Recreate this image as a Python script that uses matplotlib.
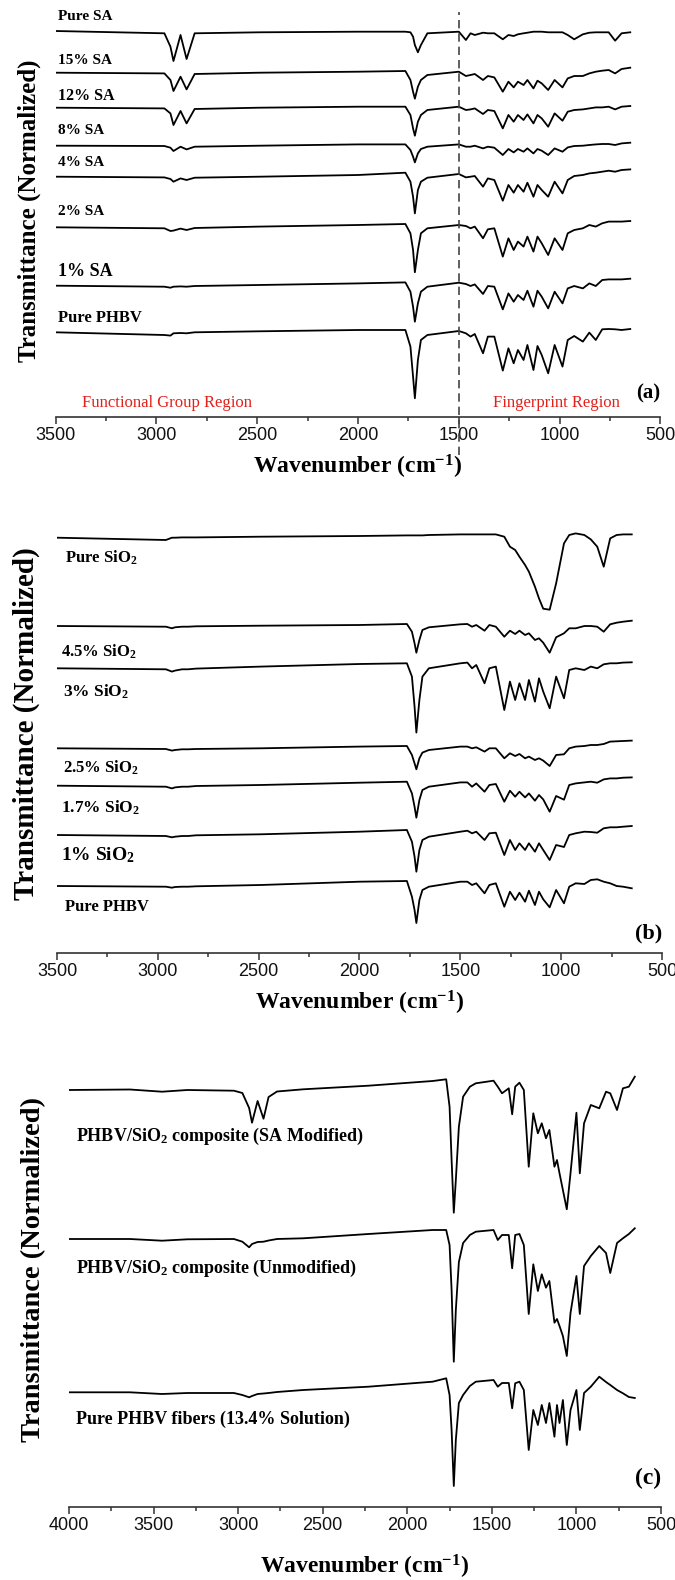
import numpy as np
import matplotlib
matplotlib.use("Agg")
import matplotlib.pyplot as plt
from matplotlib.ticker import MultipleLocator

plt.rcParams["mathtext.fontset"] = "custom"
plt.rcParams["mathtext.rm"] = "Liberation Serif:bold"
plt.rcParams["mathtext.it"] = "Liberation Serif:bold"
plt.rcParams["mathtext.bf"] = "Liberation Serif:bold"

# ---------------- data (transmittance, arbitrary units, relative to each trace start) -------------
# wavenumber points shared by the spectra of panels (a) and (b)
wn_ab = [3500, 2960, 2930, 2915, 2880, 2850, 2810, 2490, 2000, 1765, 1740, 1727, 1718, 1703, 1688,
         1656, 1500, 1465, 1442, 1421, 1380, 1356, 1324, 1282, 1254, 1228, 1207, 1179, 1160, 1130,
         1110, 1089, 1057, 1025, 986, 960, 928, 885, 853, 821, 789, 757, 725, 693, 650]

pure_sa = [0, -2.3, -15.7, -30, -4, -28, -2.3, -1.3, -0.7, -0.7, -1.3, -5.7, -14, -21.3, -14,
           -2.3, -0.7, -9, -2.3, -4, -1.7, -2.3, -2.3, -8.3, -4, -5, -3.3, -2.3, -1.7, -0.7,
           -0.7, -0.7, -1.3, -1.3, -1.3, -4, -8.3, -3.3, -1.7, -1.3, -1.3, -1.3, -9.7, -2.3, -1.3]
sa_15 = [0, -0.7, -7.3, -18.3, -4, -16.7, -1.3, 0, 1, 1.7, -7.3, -19, -26, -14, -7.3,
         -2.3, 1, -3.3, -2.3, -1.3, -7.3, -3.3, -4.7, -19, -9, -14.7, -9, -12.3, -7.3, -15.7,
         -8, -10.7, -17.3, -7.3, -14.7, -5.7, -3.3, -3.3, -0.7, 1, 2, 2.7, -0.7, 3.7, 5]
sa_12 = [0, -0.7, -5.7, -17.3, -3.3, -15.7, -1.3, 0, 1, 1, -7.3, -20.7, -28, -14, -7.3,
         -2.3, 1, -2.3, -1.7, -0.7, -6.3, -2.3, -3.3, -20.7, -7.3, -14, -7.3, -12.3, -6.7, -15.7,
         -7.3, -10.7, -19, -5.7, -13, -4, -2.3, -1.7, -0.7, 0.3, 0.3, 1, -1.7, 1, 1.7]
sa_8 = [0, -0.3, -2, -5.3, -1, -3.7, -1, 0, 1.3, 1.3, -4.3, -11, -16.7, -7.7, -3.3,
        -1, 1.3, -1, -1, 0, -2.7, -1, -2, -9.3, -3.3, -6.7, -3.3, -6, -2.7, -7.7,
        -3.3, -5, -9.3, -2.7, -6, -1.7, -0.3, 0, 0.7, 1.3, 1.7, 1.7, 0.7, 2.3, 3]
sa_4 = [0, -0.7, -2.3, -5, -1.7, -3.3, -1, 0, 1.7, 4, -5, -20, -36.7, -13.3, -5,
        -1, 2.7, -0.7, 0, 0.7, -10, -1.7, -3.3, -24, -8.3, -16, -8.3, -15, -6, -20,
        -8.3, -13.3, -20, -5, -16.7, -3.3, 0.7, 1.7, 3.3, 4, 5, 6, 5, 6.7, 7.3]
sa_2 = [0, -1, -3.7, -3.3, -1.3, -2.7, -0.7, 0.7, 2.3, 3.3, -6, -22.7, -45, -22.7, -6,
        -1, 2.3, 1.3, -1, 0.7, -11, -2, -1, -29.3, -11, -22.7, -14.3, -19.3, -9.3, -24.3,
        -9.3, -16, -27.7, -11, -22.7, -6, -2.7, -1, 2.3, 0.7, 4, 5.7, 5.7, 5.7, 6.3]
sa_1 = [0, -1, -2, -1, -0.7, -1, -0.3, 0.7, 2.3, 3.3, -6, -21, -36, -17.7, -6,
        -1, 3, 1.7, -0.3, 1.3, -8.3, -0.3, -1, -23.7, -7.7, -16, -9.3, -14.3, -5, -21,
        -5, -11, -22.7, -6, -17.7, -2.7, -0.3, -2.7, 2.3, -0.3, 5.7, 6.3, 6.3, 6.3, 7]
phbv_a = [0, -2.7, -3.3, -1, -0.7, -1, 0, 1, 2.3, 2.3, -14.3, -44.3, -66, -27.7, -7.7,
          -2.7, 1.3, -1, -4.3, -1.7, -21, -4.3, -4.3, -38.3, -16, -31, -17.7, -27.7, -12.7, -37.7,
          -13.7, -22.7, -41, -12.7, -34.3, -7.7, -3.7, -9.3, -0.3, -7.7, 3, 3.3, 3, 2.3, 3.3]

pure_sio2 = [0, -2.3, 0, 0, 0.3, 0.3, 0.3, 1, 1.7, 2.3, 2.3, 2.3, 2.3, 2.3, 2.3,
             2.7, 3.3, 3.3, 3.3, 3.3, 3.3, 3.3, 3.3, 1, -9, -12.3, -19, -27.3, -34, -49,
             -60.7, -71, -72, -45.7, -5.7, 2.7, 4.3, 2.7, -1.7, -9, -29, -0.7, 2.7, 3.3, 3.3]
sio2_45 = [0, -0.7, -2.3, -1.3, -0.7, -0.7, -0.3, 0.3, 1, 2, -5.7, -17.3, -26.7, -14, -4,
           -1.3, 1.7, 2, -0.7, 1, -4.7, 1, -0.7, -10.7, -4.7, -8, -4.7, -9, -7.3, -14,
           -12.3, -16.7, -26.7, -11.3, -7.3, -2.3, -2.3, 0, 0, -0.7, -5.7, 1.7, 3.3, 4.3, 5.3]
sio2_3 = [0, -1, -3.3, -2.3, -1, -1, -0.3, 1.7, 4.3, 5, -8.3, -38.3, -64.3, -31.7, -8.3,
          0, 5, 5.7, 0, 3.3, -15, 0, 1.7, -41.7, -13.3, -31.7, -15, -31.7, -11.7, -33.3,
          -10, -23.3, -40, -8.3, -30, -1.7, 0, -1.7, 1.7, 0, 4, 5, 5, 5.7, 6]
sio2_25 = [0, -0.7, -2.3, -1.7, -1, -1, -0.7, 0, 1.7, 2.3, -6.7, -15, -21, -10, -4.3,
           -1.7, 1.7, 1.7, 0, 1, -3.3, 0, 0, -10, -5, -7.7, -5.7, -10, -8.3, -11.7,
           -10, -12.3, -17.7, -6.7, -6, 0, 1.7, 2.3, 3.3, 3.3, 4.3, 6.7, 7, 7.3, 7.7]
sio2_17 = [0, -1, -2.7, -1.7, -1, -1, -0.3, 0.7, 3, 4, -7.7, -21, -32, -14.3, -4.3,
           -1, 3.3, 3.3, -1, 2.3, -6, 0.7, 1.7, -16, -5, -11, -6, -11.7, -7.7, -15,
           -9.3, -13.7, -26, -10.3, -14, 0.7, 2.3, 3.3, 4, 3, 6.3, 7.3, 7.3, 8, 8.3]
sio2_1 = [0, -1, -2.3, -1.7, -1, -1, -0.3, 0.7, 3.3, 5, -6.7, -21.7, -36.7, -15, -5,
          -1.7, 3.3, 4.3, 1.7, 3.3, -5, 1.7, 2.3, -20, -5, -15, -8.3, -15, -8.3, -16.7,
          -8.3, -15, -25, -10, -12, 0, 1.7, 3.3, 3, 2.3, 6.7, 7.7, 7.7, 8.3, 9]
phbv_b = [0, -0.7, -1.7, -1, -0.7, -0.7, -0.3, 1, 4.3, 5, -10.7, -24, -37, -14, -4,
          -0.7, 4.3, 4.3, 1, 2.7, -7.3, 1, 2.7, -20.7, -5.7, -14, -6.7, -15.7, -4.7, -19,
          -5.7, -13.3, -21.3, -4, -17.3, -0.7, 2.7, 2, 6, 6.7, 4.3, 2.7, 0, -0.7, -2.3]

# wavenumber points of panel (c)
wn_c = [4000, 3640, 3450, 3300, 3025, 2975, 2935, 2918, 2885, 2850, 2820, 2770, 2615, 2230, 1850,
        1770, 1750, 1738, 1725, 1713, 1695, 1670, 1630, 1595, 1490, 1465, 1440, 1400, 1380, 1362,
        1337, 1311, 1282, 1255, 1228, 1205, 1180, 1160, 1130, 1115, 1100, 1080, 1057, 1035, 1000,
        980, 955, 915, 865, 825, 800, 760, 725, 690, 655]

sa_modified = [0, 0.5, -1.7, 0, -0.7, -3, -18, -32.7, -11, -28.7, -7, -1.5, 0.7, 4.3, 9,
               10.7, -16.7, -70, -122.7, -90, -36.7, -6.7, 3.3, 6.7, 9.3, 3.3, -3.3, 1.7, -24.3, 3.3,
               7.3, 0, -76.7, -23.3, -43.3, -33.3, -48.3, -40, -76.7, -70, -83.3, -100, -119.3, -83.3, -22.7,
               -83.3, -33.3, -15, -18.3, -1.7, -3.3, -20, 1.7, 3.3, 13.3]
unmodified = [0, 0, -1.7, -0.3, 0, -2.7, -8.3, -5, -3, -2.7, -1.5, 0, 0.7, 5, 9,
              9, -6, -51, -122.7, -71, -23, -4, 4, 7.3, 9, -1, 4, 4, -29.3, 4,
              5, -6, -75, -25.3, -52, -35.3, -48.7, -42, -83.7, -80, -87, -97, -117, -74, -37,
              -75, -27, -17, -7, -14, -34, -4, 0.7, 5, 10.7]
phbv_fibers = [0, 0, -1.7, -0.7, -0.7, -2.7, -5, -3.7, -1.7, -1.2, -0.7, 0.3, 2.3, 5.6, 10.6,
               14, -2.7, -37.7, -93.7, -47.7, -10.7, -2.7, 6.3, 10.6, 12.3, 5.6, 9.3, 9.3, -16, 9,
               10.6, 2.3, -57.7, -17.7, -32.7, -12.7, -30.7, -10.7, -44.4, -12.7, -30.7, -7.7, -52.7, -17.7, 2.3,
               -37.7, -0.7, 5.6, 15.6, 10.3, 7.3, 2.3, -1, -4.7, -5.7]

labels_a = ["Pure SA", "15% SA", "12% SA", "8% SA", "4% SA", "2% SA", "1% SA", "Pure PHBV"]
spectra_a = [pure_sa, sa_15, sa_12, sa_8, sa_4, sa_2, sa_1, phbv_a]
offsets_a = [386, 344.3, 309.3, 271.3, 240.3, 189.7, 131.3, 84.7]
label_y_a = [400, 357, 321.3, 287, 254, 206, 145.3, 98.7]
label_size_a = [11, 11, 11.5, 11, 11, 11, 13, 12]

labels_b = ["Pure SiO$_2$", "4.5% SiO$_2$", "3% SiO$_2$", "2.5% SiO$_2$", "1.7% SiO$_2$",
            "1% SiO$_2$", "Pure PHBV"]
spectra_b = [pure_sio2, sio2_45, sio2_3, sio2_25, sio2_17, sio2_1, phbv_b]
offsets_b = [415.3, 327, 284.7, 204.7, 167.3, 118, 67]
label_x_b = [3461, 3482, 3472, 3472, 3482, 3482, 3461]
label_y_b = [395, 301.3, 261.3, 185, 145, 98, 46.3]
label_size_b = [12, 12, 12.5, 12, 12.5, 14, 12]

labels_c = ["PHBV/SiO$_2$ composite (SA Modified)", "PHBV/SiO$_2$ composite (Unmodified)",
            "Pure PHBV fibers (13.4% Solution)"]
spectra_c = [sa_modified, unmodified, phbv_fibers]
offsets_c = [417, 268, 114.7]
label_y_c = [371, 239, 88]

# ---------------- figure ----------------
W, H = 675.0, 1580.0
fig = plt.figure(figsize=(6.75, 15.8), dpi=100)
serif = "Liberation Serif"


def make_panel(left, right, top, bottom, x_start, ylabel_size):
    ax = fig.add_axes([left / W, 1 - bottom / H, (right - left) / W, (bottom - top) / H])
    ax.set_ylim(0, bottom - top)
    ax.set_xlim(x_start, 500)
    for side in ("left", "right", "top"):
        ax.spines[side].set_visible(False)
    ax.spines["bottom"].set_color("#333333")
    ax.spines["bottom"].set_linewidth(1.2)
    ax.set_yticks([])
    ax.xaxis.set_major_locator(MultipleLocator(500))
    ax.xaxis.set_minor_locator(MultipleLocator(250))
    ax.tick_params(axis="x", which="major", length=5, width=1.1, color="#333333", pad=2,
                   labelsize=13, labelcolor="#111111", labelfontfamily="Liberation Sans")
    ax.tick_params(axis="x", which="minor", length=3, width=1.1, color="#333333")
    ax.patch.set_alpha(0)
    ax.set_xlabel("Wavenumber (cm$^{-1}$)", fontsize=17, fontweight="bold", family=serif)
    ax.xaxis.label.set_va("center")
    ax.set_ylabel("Transmittance (Normalized)", fontsize=ylabel_size, fontweight="bold", family=serif)
    ax.yaxis.label.set_va("center")
    return ax


def draw_traces(ax, wn, spectra, offsets):
    for vals, off in zip(spectra, offsets):
        ax.plot(wn, np.array(vals) + off, color="black", lw=1.3)


# panel (a)
ax_a = make_panel(55.5, 660.5, 12, 417, 3500, 18)
draw_traces(ax_a, wn_ab, spectra_a, offsets_a)
for lab, y, fs in zip(labels_a, label_y_a, label_size_a):
    ax_a.text(3488, y, lab, fontsize=fs, fontweight="bold", family=serif, va="center", ha="left")
ax_a.plot([1500, 1500], [-38, 405], color="#444444", lw=1.2, ls=(0, (5, 3)), clip_on=False)
ax_a.text(3368, 14, "Functional Group Region", color="#e3201b", fontsize=12, family=serif,
          va="center", ha="left")
ax_a.text(1329, 14, "Fingerprint Region", color="#e3201b", fontsize=12, family=serif,
          va="center", ha="left")
ax_a.text(500, 24, "(a)", fontsize=15, fontweight="bold", family=serif, va="center", ha="right")
ax_a.xaxis.set_label_coords(0.5, -0.1235)
ax_a.yaxis.set_label_coords(-0.044, 0.51)

# panel (b)
ax_b = make_panel(57, 662, 520, 953, 3500, 21)
draw_traces(ax_b, wn_ab, spectra_b, offsets_b)
for lab, x, y, fs in zip(labels_b, label_x_b, label_y_b, label_size_b):
    ax_b.text(x, y, lab, fontsize=fs, fontweight="bold", family=serif, va="center", ha="left")
ax_b.text(500, 20, "(b)", fontsize=16, fontweight="bold", family=serif, va="center", ha="right")
ax_b.xaxis.set_label_coords(0.5, -0.1155)
ax_b.yaxis.set_label_coords(-0.05, 0.529)

# panel (c)
ax_c = make_panel(69, 661, 1050, 1507, 4000, 20.5)
draw_traces(ax_c, wn_c, spectra_c, offsets_c)
for lab, y in zip(labels_c, label_y_c):
    ax_c.text(3958, y, lab, fontsize=13, fontweight="bold", family=serif, va="center", ha="left")
ax_c.text(500, 29, "(c)", fontsize=17, fontweight="bold", family=serif, va="center", ha="right")
ax_c.xaxis.set_label_coords(0.5, -0.1313)
ax_c.yaxis.set_label_coords(-0.06, 0.519)

fig.savefig("out.png", dpi=100)
